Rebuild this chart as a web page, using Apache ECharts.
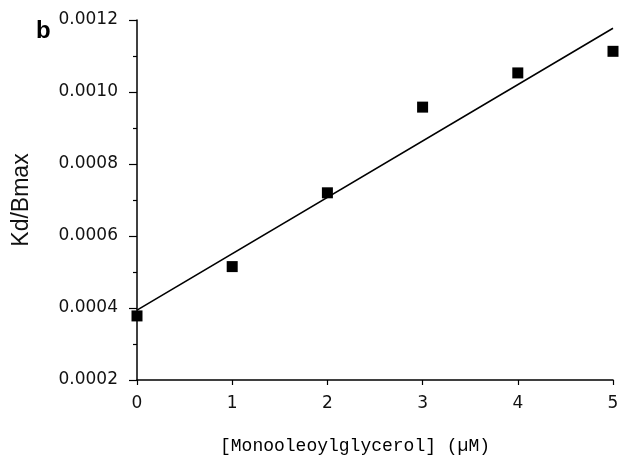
<!DOCTYPE html>
<html>
<head>
<meta charset="utf-8">
<script src="https://cdn.jsdelivr.net/npm/echarts@6/dist/echarts.min.js"></script>
<style>html,body{margin:0;padding:0;background:#fff}#c{width:623px;height:460px}</style>
</head>
<body>
<div id="c"></div>
<script>
const concentrations = [0, 1, 2, 3, 4, 5];
const kdBmax = [0.000378, 0.000515, 0.000720, 0.000958, 0.001053, 0.001113];
const fitX = [0, 5];
const fitY = [0.000394, 0.001177];
const xTicks = ['0', '1', '2', '3', '4', '5'];
const yTicks = ['0.0002', '0.0004', '0.0006', '0.0008', '0.0010', '0.0012'];

const chart = echarts.init(document.getElementById('c'), null, {renderer: 'canvas'});
chart.setOption({
  animation: false,
  backgroundColor: '#fff',
  title: {
    text: 'b', left: 31, top: 14,
    textStyle: {fontFamily: 'Liberation Sans', fontWeight: 'bold', fontSize: 24, color: '#000'}
  },
  grid: {left: 137, right: 10, top: 20, bottom: 79, containLabel: false},
  xAxis: {
    type: 'value', min: 0, max: 5, interval: 1,
    name: '[Monooleoylglycerol] (\u00b5M)', nameLocation: 'middle', nameGap: 57,
    nameTextStyle: {fontFamily: 'Liberation Mono', fontSize: 18, color: '#000', padding: [0, 40, 0, 0]},
    axisLine: {show: true, onZero: false, lineStyle: {color: '#000', width: 1.5}},
    axisTick: {show: true, inside: false, length: 5, lineStyle: {color: '#000', width: 1.2}},
    axisLabel: {margin: 15, fontFamily: 'DejaVu Sans', fontSize: 17, color: '#111',
      formatter: v => xTicks[Math.round(v)] },
    splitLine: {show: false}
  },
  yAxis: {
    type: 'value', min: 0.0002, max: 0.0012, interval: 0.0002,
    name: 'Kd/Bmax', nameLocation: 'middle', nameGap: 104, nameRotate: 90,
    nameTextStyle: {fontFamily: 'Liberation Sans', fontSize: 23, color: '#111'},
    axisLine: {show: true, onZero: false, lineStyle: {color: '#000', width: 1.5}},
    axisTick: {show: true, inside: false, length: 8, lineStyle: {color: '#000', width: 1.2}},
    minorTick: {show: true, splitNumber: 2, length: 4, lineStyle: {color: '#000', width: 1.2}},
    axisLabel: {margin: 19, fontFamily: 'DejaVu Sans', fontSize: 17, color: '#111',
      formatter: v => yTicks[Math.round((v - 0.0002) / 0.0002)] },
    splitLine: {show: false}
  },
  series: [
    {
      type: 'line', data: fitX.map((x, i) => [x, fitY[i]]),
      symbol: 'none', lineStyle: {color: '#000', width: 1.6}, z: 2
    },
    {
      type: 'scatter', data: concentrations.map((x, i) => [x, kdBmax[i]]),
      symbol: 'rect', symbolSize: 11, itemStyle: {color: '#000', opacity: 1}, z: 3
    }
  ]
});
</script>
</body>
</html>
